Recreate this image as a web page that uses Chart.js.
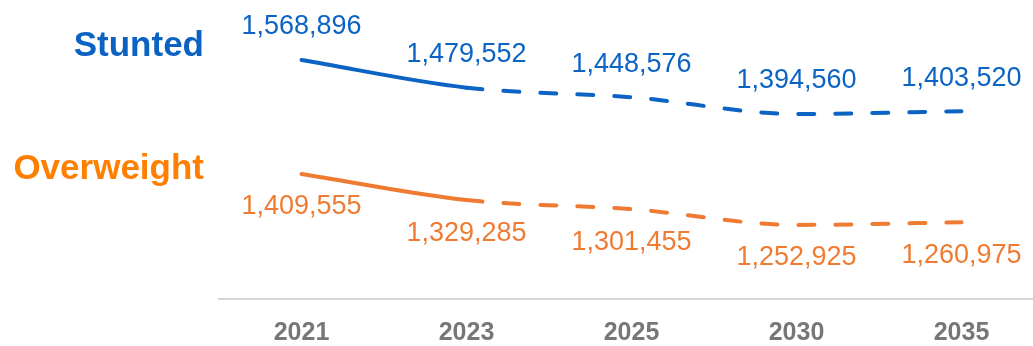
<!DOCTYPE html>
<html>
<head>
<meta charset="utf-8">
<script src="https://cdn.jsdelivr.net/npm/chart.js@4/dist/chart.umd.min.js"></script>
<style>
  html, body { margin: 0; padding: 0; background: #ffffff; }
  #wrap { width: 1033px; height: 346px; overflow: hidden; position: relative; }
  #chart { display: block; }
</style>
</head>
<body>
<div id="wrap"><canvas id="chart" width="1044" height="346"></canvas></div>
<script>
// Projected number of children affected, by year
const years = ['2021', '2023', '2025', '2030', '2035'];
const stunted = [1568896, 1479552, 1448576, 1394560, 1403520];
const overweight = [1409555, 1329285, 1301455, 1252925, 1260975];
const seriesNames = ['Stunted', 'Overweight'];

const BLUE = '#0b63c4';
const ORANGE = '#ef7b33';
const FONT = '"Liberation Sans", Arial, Helvetica, sans-serif';

const fmt = v => v.toLocaleString('en-US');

// measured values (2021, 2023) are solid, projections are dashed
const projected = ctx => (ctx.p0DataIndex >= 1 ? [16, 21] : undefined);

// value labels above (stunted) or below (overweight) every point
const valueLabels = {
  id: 'valueLabels',
  afterDatasetsDraw(chart, args, opts) {
    const ctx = chart.ctx;
    ctx.save();
    ctx.font = '27px ' + FONT;
    ctx.textAlign = 'center';
    ctx.textBaseline = 'middle';
    chart.data.datasets.forEach((ds, i) => {
      const meta = chart.getDatasetMeta(i);
      const off = opts.offsets[i];
      ctx.fillStyle = ds.borderColor;
      meta.data.forEach((pt, j) => {
        ctx.fillText(fmt(ds.data[j]), pt.x, pt.y + off);
      });
    });
    ctx.restore();
  }
};

// series names to the left of the plot
const seriesTitles = {
  id: 'seriesTitles',
  afterDraw(chart, args, opts) {
    const ctx = chart.ctx;
    const x = chart.chartArea.left - 15;
    ctx.save();
    ctx.font = 'bold 35px ' + FONT;
    ctx.textAlign = 'right';
    ctx.textBaseline = 'middle';
    opts.items.forEach(it => {
      ctx.fillStyle = it.color;
      ctx.fillText(it.text, x, it.y);
    });
    ctx.restore();
  }
};

new Chart(document.getElementById('chart'), {
  type: 'line',
  data: {
    labels: years,
    datasets: [
      {
        label: seriesNames[0],
        data: stunted,
        yAxisID: 'y',
        borderColor: BLUE,
        borderWidth: 4,
        borderCapStyle: 'round',
        cubicInterpolationMode: 'monotone',
        pointRadius: 0,
        pointHoverRadius: 0,
        fill: false,
        segment: { borderDash: projected }
      },
      {
        label: seriesNames[1],
        data: overweight,
        yAxisID: 'y2',
        borderColor: ORANGE,
        borderWidth: 4,
        borderCapStyle: 'round',
        cubicInterpolationMode: 'monotone',
        pointRadius: 0,
        pointHoverRadius: 0,
        fill: false,
        segment: { borderDash: projected }
      }
    ]
  },
  options: {
    responsive: false,
    animation: false,
    devicePixelRatio: 1,
    layout: { padding: { left: 219, right: 0, top: 0, bottom: 0 } },
    plugins: {
      legend: { display: false },
      tooltip: { enabled: false },
      valueLabels: { offsets: [-33, 33] },
      seriesTitles: {
        items: [
          { text: seriesNames[0], color: '#0a62c2', y: 46 },
          { text: seriesNames[1], color: '#ff8000', y: 169 }
        ]
      }
    },
    scales: {
      x: {
        offset: true,
        grid: { display: false, drawTicks: false },
        border: { display: true, color: '#d6d6d6', width: 2 },
        ticks: {
          padding: 22,
          color: '#777777',
          font: { family: FONT, size: 25, weight: 'bold', lineHeight: 1 }
        },
        afterFit(scale) { scale.height = 47; }
      },
      y: { display: false, min: 797000, max: 1762600 },
      y2: { display: false, min: 1024900, max: 1944900 }
    }
  },
  plugins: [valueLabels, seriesTitles]
});
</script>
</body>
</html>
